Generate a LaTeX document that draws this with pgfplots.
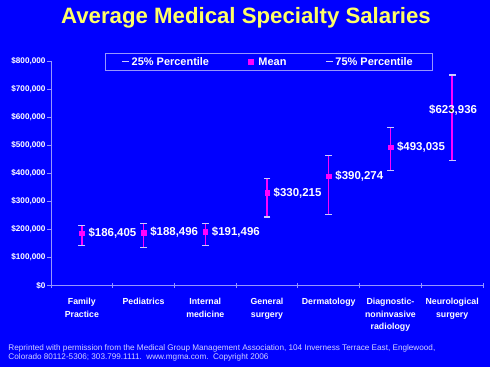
\documentclass[border=0pt]{standalone}
\usepackage{pgfplots}
\pgfplotsset{compat=1.18}
\usepackage{pgfplotstable}
\usepackage{fontspec}
\setmainfont{Liberation Sans}
\definecolor{bg}{RGB}{0,0,255}
\definecolor{ttl}{RGB}{255,255,102}
\definecolor{mag}{RGB}{255,0,255}
\definecolor{lav}{RGB}{204,204,255}
\definecolor{axc}{RGB}{150,150,255}
\definecolor{foot}{RGB}{210,210,255}

\pgfplotstableread{
x mean p25 p75 lab
0 186405 143000 213000 \$186,405
1 188496 134000 220000 \$188,496
2 191496 141000 220000 \$191,496
3 330215 244000 380000 \$330,215
4 390274 252000 463000 \$390,274
5 493035 409000 563000 \$493,035
6 623936 447000 751000 \$623,936
}\data

\begin{document}
\begin{tikzpicture}
\fill[bg] (0,0) rectangle (490bp,367bp);
\node[anchor=base, text=ttl, font=\fontsize{22.3}{26}\selectfont\bfseries, inner sep=0] at (246bp,343bp) {Average Medical Specialty Salaries};
\begin{axis}[
  at={(51bp,81.7bp)}, anchor=south west,
  scale only axis, width=432bp, height=224bp,
  xmin=-0.5, xmax=6.5, ymin=0, ymax=800000,
  axis x line*=bottom, axis y line*=left,
  axis line style={axc, line width=0.8pt},
  scaled y ticks=false,
  ytick={0,100000,200000,300000,400000,500000,600000,700000,800000},
  yticklabels={\$0,{\$100,000},{\$200,000},{\$300,000},{\$400,000},{\$500,000},{\$600,000},{\$700,000},{\$800,000}},
  yticklabel style={text=white, font=\fontsize{8.2}{10}\selectfont\bfseries},
  xtick={0,1,2,3,4,5,6},
  xticklabels={{Family\\Practice},{Pediatrics},{Internal\\medicine},{General\\surgery},{Dermatology},{Diagnostic-\\noninvasive\\radiology},{Neurological\\surgery}},
  xticklabel style={text=white, align=center, anchor=north, inner sep=0pt, yshift=-11bp, font=\fontsize{8.8}{12.6}\selectfont\bfseries},
  minor xtick={-0.5,0.5,1.5,2.5,3.5,4.5,5.5,6.5},
  tick align=center,
  major tick length=4bp, minor tick length=5bp,
  major x tick style={draw=none},
  minor x tick style={axc, line width=0.8pt},
  major y tick style={axc, line width=0.8pt, xshift=-2bp},
  legend entries={25\% Percentile, Mean, 75\% Percentile},
  legend style={at={(0.503,0.997)}, anchor=center, draw=axc, fill=bg, text=white,
    font=\fontsize{11}{13}\selectfont\bfseries, legend columns=3,
    inner xsep=17bp, inner ysep=2bp,
    /tikz/every even column/.append style={column sep=37bp}},
  clip=false,
]
\addlegendimage{legend image code/.code={\draw[lav, line width=1pt] (0bp,0bp) -- (7bp,0bp);}}
\addlegendimage{legend image code/.code={\fill[mag] (0bp,-2.3bp) rectangle (4.6bp,2.3bp); \path (8bp,0bp);}}
\addlegendimage{legend image code/.code={\draw[lav, line width=1pt] (0bp,0bp) -- (7bp,0bp);}}
% high-low lines
\addplot[forget plot, only marks, mark=none,
  error bars/.cd, y dir=both, y explicit, error mark=none,
  error bar style={mag, line width=1.4pt, solid}]
  table[x=x, y=mean, y error plus expr=\thisrow{p75}-\thisrow{mean}, y error minus expr=\thisrow{mean}-\thisrow{p25}] {\data};
% 25th percentile caps
\addplot[forget plot, only marks, mark=-, mark size=3.5pt, lav, mark options={line width=1.1pt}] table[x=x, y=p25] {\data};
% 75th percentile caps
\addplot[forget plot, only marks, mark=-, mark size=3.5pt, lav, mark options={line width=1.1pt}] table[x=x, y=p75] {\data};
% mean markers
\addplot[forget plot, only marks, mark=square*, mark size=2.3pt, mag, skip coords between index={6}{7}] table[x=x, y=mean] {\data};
% mean labels (right of marker)
\addplot[forget plot, only marks, mark=none,
  point meta=explicit symbolic, skip coords between index={6}{7},
  nodes near coords,
  nodes near coords style={anchor=west, xshift=6.5bp, inner sep=0pt, text=white, font=\fontsize{11.5}{13}\selectfont\bfseries}]
  table[x=x, y=mean, meta=lab] {\data};
% label for the last category (centred on its point)
\addplot[forget plot, only marks, mark=none,
  point meta=explicit symbolic, skip coords between index={0}{6},
  nodes near coords,
  nodes near coords style={anchor=center, xshift=1bp, inner sep=0pt, text=white, font=\fontsize{11.5}{13}\selectfont\bfseries}]
  table[x=x, y=mean, meta=lab] {\data};
\end{axis}
\node[anchor=base west, text=foot, font=\fontsize{8.2}{9}\selectfont, inner sep=0] at (8.3bp,16.5bp) {Reprinted with permission from the Medical Group Management Association, 104 Inverness Terrace East, Englewood,};
\node[anchor=base west, text=foot, font=\fontsize{8.2}{9}\selectfont, inner sep=0] at (8.3bp,7.7bp) {Colorado 80112-5306; 303.799.1111.\ \ www.mgma.com.\ \ Copyright 2006};
\pgfresetboundingbox
\useasboundingbox (0,0) rectangle (490bp,367bp);
\end{tikzpicture}
\end{document}
